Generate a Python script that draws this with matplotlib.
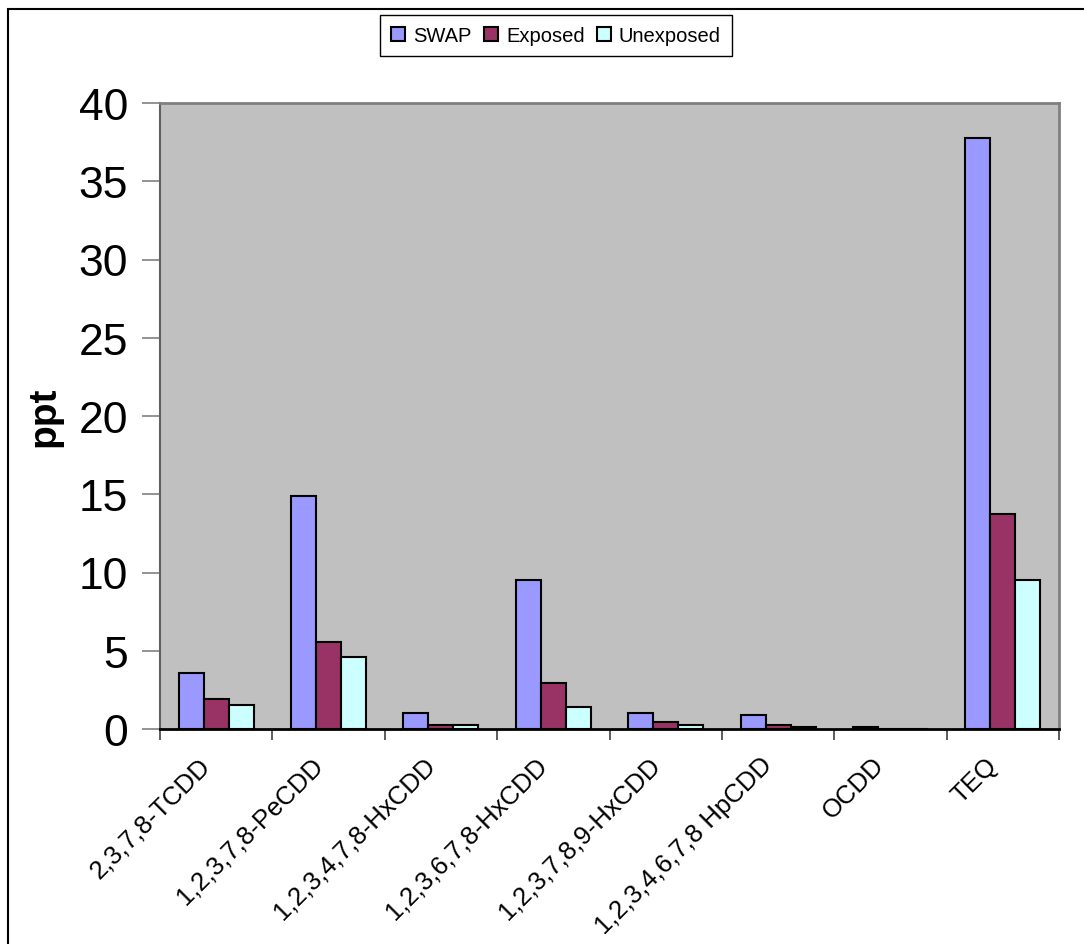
import numpy as np
import matplotlib
matplotlib.use("Agg")
import matplotlib.pyplot as plt
from matplotlib.patches import Rectangle
from matplotlib.transforms import ScaledTranslation

plt.rcParams['font.family'] = ['Liberation Sans', 'DejaVu Sans']

# data (ppt)
congeners = ["2,3,7,8-TCDD", "1,2,3,7,8-PeCDD", "1,2,3,4,7,8-HxCDD", "1,2,3,6,7,8-HxCDD",
             "1,2,3,7,8,9-HxCDD", "1,2,3,4,6,7,8 HpCDD", "OCDD", "TEQ"]
swap = [3.58, 14.9, 1.02, 9.52, 1.04, 0.91, 0.12, 37.74]
exposed = [1.92, 5.58, 0.26, 2.92, 0.43, 0.28, 0.0, 13.74]
unexposed = [1.55, 4.58, 0.26, 1.38, 0.28, 0.13, 0.0, 9.54]

series = [("SWAP", swap, "#9999FF"),
          ("Exposed", exposed, "#993366"),
          ("Unexposed", unexposed, "#CCFFFF")]

fig = plt.figure(figsize=(10.84, 9.45), dpi=100)
ax = fig.add_axes([160 / 1084, 215 / 945, 899 / 1084, 626 / 945])
ax.set_facecolor("#C0C0C0")

x = np.arange(len(congeners))
width = 1 / 4.5
for i, (name, vals, col) in enumerate(series):
    ax.bar(x + (i - 1) * width, vals, width, color=col, edgecolor="black",
           linewidth=1.5, label=name)

ax.set_xlim(-0.5, len(congeners) - 0.5)
ax.set_ylim(0, 40)
ax.set_yticks(np.arange(0, 41, 5))
ax.tick_params(axis="y", labelsize=32, length=13, width=1.2, color="#808080", pad=10)

# category boundaries get the tick marks, labels sit at the centres
ax.set_xticks(np.arange(-0.5, len(congeners)), minor=True)
ax.set_xticks(x)
ax.set_xticklabels(congeners, rotation=45, ha="right", va="center",
                   rotation_mode="anchor", fontsize=18.5)
ax.tick_params(axis="x", which="major", length=0, pad=23)
ax.tick_params(axis="x", which="minor", length=8, width=1.2, color="#404040")
# nudge the slanted labels a little to the left
shift = ScaledTranslation(-7 / 72, 0, fig.dpi_scale_trans)
for lbl in ax.get_xticklabels():
    lbl.set_transform(lbl.get_transform() + shift)

for side in ["top", "right"]:
    ax.spines[side].set_color("#808080")
    ax.spines[side].set_linewidth(2)
ax.spines["left"].set_color("#606060")
ax.spines["left"].set_linewidth(1.5)
ax.spines["bottom"].set_color("black")
ax.spines["bottom"].set_linewidth(2)

ax.set_ylabel("ppt", fontsize=28, fontweight="bold")
ax.yaxis.set_label_coords(-0.109, 0.5)

fig.legend(loc="center", bbox_to_anchor=(0.513, 0.961), ncol=3, fontsize=14.5,
           frameon=True, fancybox=False, edgecolor="black", handlelength=0.7,
           handleheight=0.7, handletextpad=0.4, columnspacing=0.6, borderpad=0.55,
           framealpha=1)

# outer chart-area frame (cut off at right and bottom)
fig.patches.append(Rectangle((8 / 1084, -0.1), 1.2, 1.1 - 10 / 945, transform=fig.transFigure,
                             fill=False, edgecolor="black", linewidth=1.5))

fig.savefig("out.png", dpi=100)
